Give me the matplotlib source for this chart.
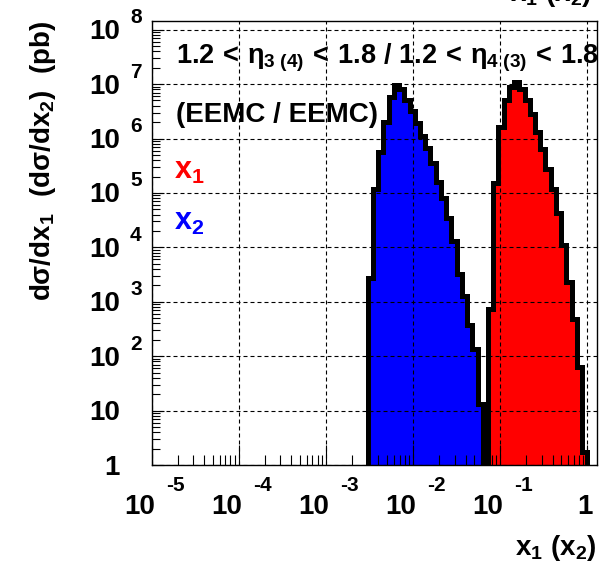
import numpy as np
import matplotlib.pyplot as plt
from matplotlib.ticker import LogLocator, NullFormatter

plt.rcParams['font.family'] = 'Liberation Sans'
plt.rcParams['font.weight'] = 'bold'
plt.rcParams['mathtext.fontset'] = 'custom'
plt.rcParams['mathtext.rm'] = 'Liberation Sans'
plt.rcParams['mathtext.it'] = 'Liberation Sans'
plt.rcParams['mathtext.bf'] = 'Liberation Sans:bold'

# histogram binning: 50 log bins from 1e-3 to 1
log_lo, log_hi, n_bins = -3.0, 0.0, 50
edges = np.logspace(log_lo, log_hi, n_bins + 1)

# x2 (blue), dsigma/dx2 in pb, first filled bin index
x2_first = 8
x2_vals = [2.7e3, 1.2e5, 5.6e5, 2.0e6, 5.9e6, 9.5e6, 8.3e6, 5.2e6, 3.2e6, 1.9e6,
           1.1e6, 6.6e5, 3.5e5, 1.6e5, 7.9e4, 3.5e4, 1.3e4, 3.2e3, 1.3e3, 3.7e2,
           1.35e2, 13]

# x1 (red), dsigma/dx1 in pb
x1_first = 31
x1_vals = [7.4e2, 1.5e5, 1.66e6, 5.1e6, 8.9e6, 1.1e7, 8.3e6, 5.0e6, 2.8e6, 1.3e6,
           6.3e5, 2.8e5, 1.2e5, 4.2e4, 1.1e4, 2.3e3, 4.8e2, 63, 1.7]

x_decades = [-5, -4, -3, -2, -1, 0]
y_decades = [0, 1, 2, 3, 4, 5, 6, 7, 8]

fig = plt.figure(figsize=(6.04, 5.70), dpi=100)
ax = fig.add_axes([0.2512, 0.1842, 0.7367, 0.779])
ax.set_xscale('log')
ax.set_yscale('log')

e2 = edges[x2_first:x2_first + len(x2_vals) + 1]
e1 = edges[x1_first:x1_first + len(x1_vals) + 1]
ax.stairs(x2_vals, e2, baseline=1, fill=True, color='#0000ff', lw=0, zorder=1)
ax.stairs(x1_vals, e1, baseline=1, fill=True, color='#ff0000', lw=0, zorder=1)
ax.stairs(x2_vals, e2, baseline=1, color='black', lw=3.6, zorder=1.5)
ax.stairs(x1_vals, e1, baseline=1, color='black', lw=3.6, zorder=1.5)

ax.set_xlim(1e-5, 10 ** 0.108)
ax.set_ylim(1, 10 ** 8.16)

ax.xaxis.set_major_locator(LogLocator(base=10, numticks=20))
ax.xaxis.set_minor_locator(LogLocator(base=10, subs=np.arange(2, 10), numticks=20))
ax.yaxis.set_major_locator(LogLocator(base=10, numticks=20))
ax.yaxis.set_minor_locator(LogLocator(base=10, subs=np.arange(2, 10), numticks=20))
ax.xaxis.set_major_formatter(NullFormatter())
ax.xaxis.set_minor_formatter(NullFormatter())
ax.yaxis.set_major_formatter(NullFormatter())
ax.yaxis.set_minor_formatter(NullFormatter())
ax.tick_params(axis='x', which='major', direction='in', length=14.4, width=0.8)
ax.tick_params(axis='x', which='minor', direction='in', length=7.2, width=0.8)
ax.tick_params(axis='y', which='major', direction='in', length=8.6, width=0.8)
ax.tick_params(axis='y', which='minor', direction='in', length=5.5, width=0.8)
ax.set_axisbelow(False)
ax.grid(True, which='major', color='black', lw=0.8, linestyle=(0, (3.6, 2.7)))
for s in ax.spines.values():
    s.set_linewidth(1.0)

# tick labels in ROOT style
for d in x_decades:
    if d == 0:
        ax.annotate('1', xy=(10.0 ** d, 0), xycoords=('data', 'axes fraction'),
                    xytext=(-2, -41.7), textcoords='offset pixels',
                    ha='center', va='center', fontsize=20, fontweight='bold')
        continue
    ax.annotate('10', xy=(10.0 ** d, 0), xycoords=('data', 'axes fraction'),
                xytext=(3, -41.7), textcoords='offset pixels',
                ha='right', va='center', fontsize=20, fontweight='bold')
    ax.annotate(str(d), xy=(10.0 ** d, 0), xycoords=('data', 'axes fraction'),
                xytext=(14, -20), textcoords='offset pixels',
                ha='left', va='center', fontsize=15, fontweight='bold')

for d in y_decades:
    if d == 0:
        txt = '1'
    else:
        txt = '10'
    ax.annotate(txt, xy=(0, 10.0 ** d), xycoords=('axes fraction', 'data'),
                xytext=(-31.7, -2.5), textcoords='offset pixels',
                ha='right', va='center', fontsize=20, fontweight='bold')
    if d >= 2:
        ax.annotate(str(d), xy=(0, 10.0 ** d), xycoords=('axes fraction', 'data'),
                    xytext=(-21.7, 12), textcoords='offset pixels',
                    ha='left', va='center', fontsize=15, fontweight='bold')

# axis titles
fig.text(596.7 / 604, 1 - 555 / 570, r'$\mathbf{x_1\ (x_2)}$', ha='right',
         va='baseline', fontsize=20)
fig.text(592 / 604, 1 - 1 / 570, r'$\mathbf{x_1\ (x_2)}$', ha='right',
         va='baseline', fontsize=20)
fig.text(50 / 604, 1 - 21 / 570,
         r'$\mathbf{d}\sigma\mathbf{/dx_1\ \ (d}\sigma\mathbf{/dx_2)\ \ (pb)}$',
         rotation=90, rotation_mode='anchor', ha='right', va='baseline',
         fontsize=20)

# annotations
ax.text(176 / 604, 1 - 63 / 570,
        r'$\mathbf{1.2}\,<\,\eta_{\mathbf{3\ (4)}}\,<\,\mathbf{1.8\ /\ 1.2}\,<\,'
        r'\eta_{\mathbf{4\ (3)}}\,<\,\mathbf{1.8}$',
        transform=fig.transFigure, ha='left', va='baseline', fontsize=19.5)
ax.text(176 / 604, 1 - 122 / 570, '(EEMC / EEMC)', transform=fig.transFigure,
        ha='left', va='baseline', fontsize=20, fontweight='bold')
ax.text(174 / 604, 1 - 179 / 570, r'$\mathbf{x_1}$', transform=fig.transFigure,
        ha='left', va='baseline', fontsize=22, color='#ff0000')
ax.text(174 / 604, 1 - 230 / 570, r'$\mathbf{x_2}$', transform=fig.transFigure,
        ha='left', va='baseline', fontsize=22, color='#0000ff')

fig.savefig('out.png', dpi=100)
